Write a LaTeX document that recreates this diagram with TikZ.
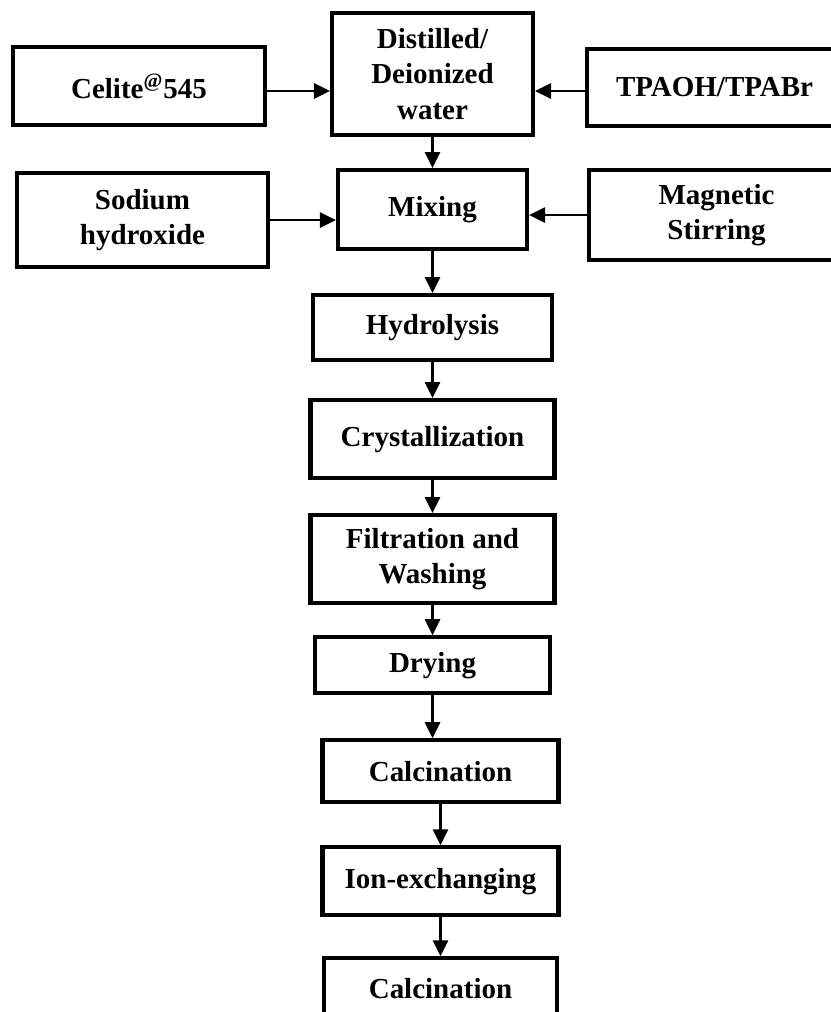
\documentclass[tikz,border=0pt]{standalone}
\usepackage{fontspec}
\setmainfont{Liberation Serif}
\usetikzlibrary{positioning,arrows.meta}

\begin{document}
\begin{tikzpicture}[
        node distance=0.7cm and 1.2cm,
        box/.style={rectangle, draw, line width=2.3pt, align=center, inner sep=2pt, font=\fontsize{16.5}{20}\selectfont\bfseries},
        main/.style={box, minimum width=4.8cm, minimum height=1.3cm},
        side/.style={box, minimum width=5cm, minimum height=1.6cm},
        arr/.style={-{Triangle[length=0.32cm, width=0.3cm]}, line width=1.6pt},
    ]
    \useasboundingbox (0,0) rectangle (16.6,-20.24);

    % ----- Inputs (top rows) -----
    \node[box, minimum width=4.02cm, minimum height=2.44cm] (dis) at (8.65,-1.48) {Distilled/\\Deionized\\water};
    \node[side, minimum width=5.04cm, minimum height=1.56cm, left=1.26cm of dis, yshift=-0.24cm] (cel) {Celite\textsuperscript{@}545};
    \node[side, minimum width=5.1cm, minimum height=1.54cm, right=1.0cm of dis, yshift=-0.27cm] (tpa) {TPAOH/TPABr};

    \node[main, minimum width=3.78cm, minimum height=1.58cm, below=0.62cm of dis] (mix) {Mixing};
    \node[side, minimum width=5.02cm, minimum height=1.88cm, left=1.32cm of mix, yshift=-0.21cm] (sod) {Sodium\\hydroxide};
    \node[side, minimum width=5.1cm, minimum height=1.8cm, right=1.16cm of mix, yshift=-0.11cm] (mag) {Magnetic\\Stirring};

    \draw[arr] ([yshift=-0.1cm]cel.east) -- ([yshift=-0.1cm]cel.east -| dis.west);
    \draw[arr] ([yshift=-0.07cm]tpa.west) -- ([yshift=-0.07cm]tpa.west -| dis.east);
    \draw[arr] (sod.east) -- (sod.east -| mix.west);
    \draw[arr] (mag.west) -- (mag.west -| mix.east);
    \draw[arr] (dis.south) -- (dis.south |- mix.north);

    % ----- Synthesis steps -----
    \node[main, minimum width=4.78cm, below=0.84cm of mix] (hyd) {Hydrolysis};
    \node[main, minimum width=4.88cm, minimum height=1.56cm, below=0.72cm of hyd] (cry) {Crystallization};
    \node[main, minimum width=4.88cm, minimum height=1.76cm, below=0.66cm of cry] (fil) {Filtration and\\Washing};
    \node[main, minimum width=4.7cm, minimum height=1.12cm, below=0.6cm of fil] (dry) {Drying};
    \node[main, minimum width=4.72cm, minimum height=1.24cm, below=0.86cm of dry, xshift=0.16cm] (calA) {Calcination};
    \node[main, minimum width=4.72cm, minimum height=1.36cm, below=0.82cm of calA] (ion) {Ion-exchanging};
    \node[main, minimum width=4.66cm, minimum height=1.2cm, below=0.78cm of ion] (calB) {Calcination};

    \draw[arr] (mix.south) -- (mix.south |- hyd.north);
    \draw[arr] (hyd.south) -- (hyd.south |- cry.north);
    \draw[arr] (cry.south) -- (cry.south |- fil.north);
    \draw[arr] (fil.south) -- (fil.south |- dry.north);
    \draw[arr] (dry.south) -- (dry.south |- calA.north);
    \draw[arr] (calA.south) -- (calA.south |- ion.north);
    \draw[arr] (ion.south) -- (ion.south |- calB.north);

\end{tikzpicture}
\end{document}
